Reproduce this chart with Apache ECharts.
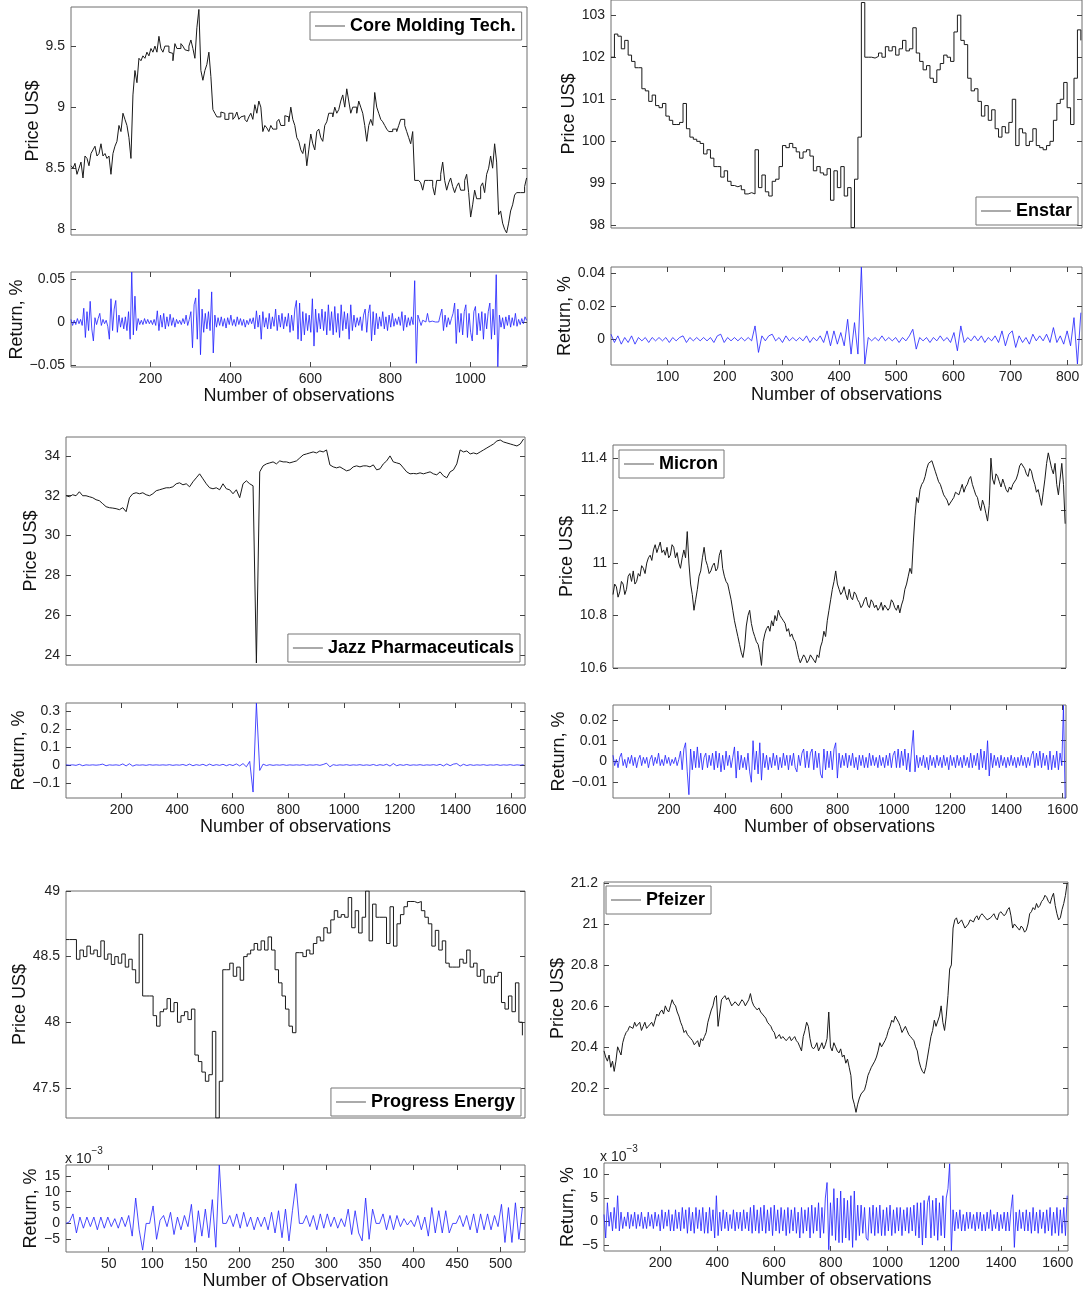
<!DOCTYPE html>
<html><head><meta charset="utf-8">
<script src="https://cdn.jsdelivr.net/npm/echarts@6/dist/echarts.min.js"></script>
<style>html,body{margin:0;padding:0;background:#fff}#c{width:1086px;height:1294px}</style>
</head><body><div id="c"></div>
<script>
// ---------------- DATA ----------------
// Core Molding Tech. : price sampled every 5 obs from obs 1, returns every 4 obs from obs 1
const coreName = 'Core Molding Tech.';
const corePriceStep = 5, coreReturnStep = 4;
const corePrice = [8.52,8.5,8.54,8.45,8.50,8.55,8.42,8.6,8.58,8.52,8.62,8.65,8.68,8.6,8.62,8.7,8.60,8.62,8.58,8.6,
 8.45,8.62,8.68,8.72,8.85,8.8,8.95,8.9,8.85,8.75,8.58,9.1,9.30,9.2,9.40,9.38,9.42,9.4,9.45,9.42,
 9.48,9.45,9.50,9.45,9.58,9.48,9.45,9.5,9.50,9.45,9.44,9.38,9.52,9.48,9.48,9.52,9.50,9.47,9.46,9.5,
 9.55,9.48,9.40,9.65,9.80,9.3,9.22,9.3,9.35,9.45,9.25,8.98,8.95,8.92,8.92,8.96,8.95,8.9,8.90,8.95,
 8.95,8.9,8.92,8.96,8.90,8.92,8.93,8.9,8.88,8.92,8.95,8.9,9.02,8.95,9.05,9.0,8.80,8.85,8.83,8.8,
 8.85,8.82,8.82,8.88,8.90,8.85,8.85,8.93,8.92,8.88,9.00,8.9,8.85,8.75,8.72,8.65,8.62,8.7,8.52,8.65,
 8.78,8.7,8.65,8.8,8.82,8.75,8.72,8.85,8.88,8.95,8.95,8.92,9.00,8.95,8.98,9.05,9.10,9.0,9.15,9.05,
 8.95,9.0,9.00,8.95,9.05,9.0,8.95,8.85,8.72,8.85,8.90,8.85,9.12,9.0,8.95,8.9,8.88,8.85,8.82,8.8,
 8.80,8.82,8.82,8.8,8.85,8.9,8.90,8.85,8.80,8.75,8.70,8.8,8.40,8.4,8.40,8.38,8.32,8.4,8.40,8.4,
 8.40,8.35,8.28,8.4,8.40,8.45,8.55,8.4,8.32,8.38,8.42,8.35,8.30,8.35,8.38,8.32,8.32,8.4,8.45,8.3,
 8.10,8.2,8.32,8.25,8.25,8.35,8.38,8.3,8.45,8.5,8.60,8.5,8.70,8.55,8.12,8.15,8.05,8.0,7.97,8.05,
 8.15,8.2,8.28,8.3,8.30,8.3,8.30,8.35,8.42];
const coreReturn = [0.003,-0.004,0.002,-0.003,0.004,-0.002,0.003,-0.004,0.016,-0.018,0.012,-0.01,0.024,-0.008,-0.022,0.005,-0.003,0.004,0.01,-0.004,0.003,-0.002,0.002,-0.005,-0.02,
 0.027,-0.01,0.015,0.025,-0.012,0.008,-0.006,0.005,-0.008,0.006,-0.01,0.012,-0.02,0.058,-0.015,0.03,-0.01,0.004,-0.003,0.002,-0.003,0.004,-0.002,0.003,-0.002,
 0.002,-0.003,0.003,-0.004,0.013,-0.01,0.008,-0.006,0.01,-0.008,0.006,-0.005,0.009,-0.004,0.005,-0.006,0.003,-0.002,0.002,-0.003,0.004,-0.002,0.008,-0.004,0.003,
 0.012,-0.03,0.02,0.028,-0.02,0.038,-0.038,0.015,-0.012,0.01,-0.008,0.012,-0.01,0.035,-0.036,0.008,-0.006,0.005,-0.004,0.006,-0.005,0.004,-0.007,0.005,-0.003,
 0.008,-0.004,0.003,-0.005,0.006,-0.003,0.004,-0.004,0.003,-0.006,0.002,-0.003,0.004,-0.002,0.005,-0.008,0.013,-0.006,0.008,-0.02,0.012,-0.006,0.005,-0.008,0.01,
 -0.008,0.006,-0.005,0.015,-0.01,0.008,-0.006,0.01,-0.008,0.006,-0.005,0.01,-0.012,0.008,-0.01,0.015,0.025,-0.02,0.022,-0.022,0.012,-0.015,0.01,-0.01,0.008,
 -0.012,0.027,-0.028,0.015,-0.012,0.01,-0.008,0.015,-0.01,0.012,-0.015,0.02,-0.01,0.012,-0.015,0.018,-0.012,0.01,-0.018,0.02,-0.01,0.012,-0.008,0.01,-0.02,
 0.02,-0.01,0.008,-0.006,0.005,-0.004,0.006,-0.01,0.008,0.015,-0.012,0.01,0.02,-0.022,0.012,-0.015,0.01,-0.008,0.006,-0.005,0.012,-0.008,0.006,-0.01,0.008,
 -0.006,0.01,-0.005,0.004,-0.003,0.006,-0.004,0.012,-0.01,0.008,-0.006,0.005,-0.004,0.006,-0.003,0.048,-0.048,0.008,0.01,-0.004,0.002,0,0,0.01,0,
 0,0.001,0,0,0.001,0,0.008,0.015,-0.01,0.008,-0.006,0.005,-0.003,0.004,0.01,0.022,-0.025,0.015,-0.012,0.01,-0.015,0.012,0.02,-0.018,0.01,
 -0.012,-0.022,0.012,0.018,-0.015,0.01,-0.01,0.012,-0.02,0.01,-0.008,0.012,0.022,-0.02,0.015,-0.015,0.055,-0.052,0.008,-0.006,0.005,-0.008,0.006,-0.004,0.008,
 -0.006,0.005,-0.004,0.01,-0.005,0.003,-0.003,0.004,-0.002,0.006,0.002];
const corePriceTicks = [8, 8.5, 9, 9.5];
const coreReturnTicks = [-0.05, 0, 0.05];
const coreObsTicks = [200, 400, 600, 800, 1000];

// Enstar : price and returns every 6 obs from obs 1
const ensName = 'Enstar';
const ensPriceStep = 6, ensReturnStep = 6;
const ensPrice = [102.0,102.55,102.5,102.2,102.4,102.05,101.9,101.75,101.75,101.25,
 101.2,100.95,101.1,100.85,100.8,100.9,100.6,100.5,100.4,100.4,
 100.45,100.9,100.3,100.1,100.05,100.0,99.95,99.7,99.8,99.6,
 99.4,99.4,99.15,99.3,99.05,98.95,98.92,98.95,98.85,98.75,
 98.78,98.75,99.8,98.9,99.2,98.8,98.7,99.05,99.1,99.4,
 99.9,99.85,99.95,99.85,99.75,99.6,99.75,99.8,99.65,99.3,
 99.4,99.25,99.2,99.35,98.6,99.3,98.9,99.4,98.7,98.9,
 97.95,99.1,100.1,103.3,102.0,102.0,101.98,102.02,102.1,102.0,
 102.25,102.15,102.25,102.05,102.2,102.4,102.15,102.2,102.7,102.1,
 101.9,101.7,101.8,101.5,101.4,101.7,101.85,102.05,102.0,101.9,
 102.6,103.0,102.4,102.3,101.5,101.2,101.25,100.95,100.6,100.85,
 100.5,100.75,100.3,100.1,100.35,100.2,100.45,101.0,99.9,100.3,
 100.2,99.9,100.0,100.3,99.9,99.85,99.8,99.9,100.0,100.5,
 100.9,101.0,101.4,100.8,100.4,101.5,102.65,102.4];
const ensReturn = [0.003,-0.002,0.002,-0.003,0.001,-0.002,0.002,-0.003,0.001,-0.001,
 0.001,-0.002,0.001,-0.001,0.001,-0.001,0.001,-0.002,0.001,-0.001,
 0.001,0.002,-0.002,0.001,-0.001,0.001,-0.001,0.001,-0.001,0.001,
 -0.002,0.002,0.003,-0.002,0.001,-0.001,0.001,-0.001,0.001,-0.001,
 0.001,-0.001,0.008,-0.008,0.002,-0.001,0.002,0.003,-0.001,0.001,
 -0.002,0.002,-0.001,0.001,-0.001,0.001,-0.001,0.002,-0.002,0.001,
 -0.001,0.002,-0.002,0.005,-0.004,0.005,-0.003,0.004,-0.004,0.012,
 -0.009,0.01,-0.009,0.0435,-0.015,0.001,-0.001,0.001,-0.001,0.002,
 -0.001,0.001,-0.001,0.001,-0.002,0.001,-0.001,0.002,0.006,-0.006,
 0.001,-0.001,0.001,-0.002,0.001,-0.001,0.002,-0.001,0.001,-0.002,
 0.004,-0.007,0.008,-0.002,0.001,-0.001,0.002,-0.001,0.002,-0.002,
 0.001,-0.001,0.002,-0.002,0.005,-0.004,0.003,0.005,-0.005,0.002,
 -0.002,0.001,-0.003,0.003,-0.001,0.002,-0.001,0.003,-0.002,0.007,
 -0.002,0.002,-0.003,0.005,-0.004,0.013,-0.015,0.016];
const ensPriceTicks = [98, 99, 100, 101, 102, 103];
const ensReturnTicks = [0, 0.02, 0.04];
const ensObsTicks = [100, 200, 300, 400, 500, 600, 700, 800];

// Jazz Pharmaceuticals : every 12 obs from obs 1
const jazzName = 'Jazz Pharmaceuticals';
const jazzPriceStep = 12, jazzReturnStep = 12;
const jazzPrice = [32.0,31.95,32.05,32.0,32.2,32.0,32.0,31.95,31.9,31.8,
 31.75,31.6,31.45,31.4,31.38,31.35,31.3,31.4,31.2,31.9,
 32.1,32.15,32.1,32.15,32.05,32.0,32.1,32.25,32.3,32.35,
 32.4,32.4,32.45,32.6,32.65,32.55,32.6,32.45,32.7,32.9,
 33.1,32.85,32.6,32.4,32.35,32.4,32.3,32.6,32.35,32.3,
 32.1,32.3,31.9,32.6,32.75,32.6,32.5,23.6,33.2,33.5,
 33.6,33.65,33.7,33.6,33.75,33.7,33.7,33.65,33.7,33.75,
 33.9,34.05,34.1,34.15,34.2,34.15,34.25,34.2,34.3,33.55,
 33.45,33.4,33.45,33.35,33.25,33.3,33.45,33.5,33.45,33.5,
 33.5,33.45,33.55,33.3,33.35,33.6,33.75,34.0,33.7,33.65,
 33.6,33.4,33.2,33.1,33.12,33.1,33.15,33.1,33.15,33.2,
 33.1,33.05,33.2,33.0,32.9,33.2,33.3,33.6,34.3,34.2,
 34.25,34.1,34.15,34.1,34.2,34.3,34.4,34.5,34.6,34.75,
 34.8,34.7,34.65,34.6,34.55,34.5,34.6,34.85];
const jazzReturn = [0.001,-0.001,0.001,-0.002,0.004,-0.004,0.001,-0.001,0.001,-0.001,
 0.001,0.005,-0.004,0.001,-0.001,0.001,-0.002,0.006,-0.005,0.007,
 -0.006,0.001,-0.001,0.001,-0.002,0.002,-0.001,0.001,-0.001,0.001,
 -0.001,0.002,-0.002,0.001,-0.001,0.003,-0.003,0.005,-0.004,0.002,
 -0.002,0.004,-0.004,0.005,-0.003,0.002,-0.002,0.004,-0.004,0.003,
 -0.003,0.006,-0.005,0.008,-0.01,0.02,-0.15,0.343,-0.03,0.005,
 -0.003,0.002,-0.002,0.001,-0.001,0.002,-0.002,0.001,-0.001,0.001,
 -0.001,0.002,-0.002,0.001,-0.001,0.002,-0.002,0.003,0.01,-0.01,
 0.002,-0.002,0.001,-0.001,0.002,-0.002,0.001,-0.001,0.002,-0.002,
 0.001,-0.002,0.003,-0.003,0.002,-0.002,0.004,-0.006,0.008,-0.004,
 0.002,-0.002,0.003,-0.002,0.001,-0.001,0.002,-0.002,0.001,-0.001,
 0.002,-0.002,0.004,-0.005,0.006,-0.004,0.005,0.008,-0.006,0.004,
 -0.003,0.002,-0.002,0.001,-0.001,0.002,-0.002,0.001,-0.001,0.002,
 -0.002,0.001,-0.001,0.002,-0.002,0.001,-0.001,0.002];
const jazzPriceTicks = [24, 26, 28, 30, 32, 34];
const jazzReturnTicks = [-0.1, 0, 0.1, 0.2, 0.3];
const jazzObsTicks = [200, 400, 600, 800, 1000, 1200, 1400, 1600];

// Micron : price and returns every 6 obs from obs 1
const micName = 'Micron';
const micPriceStep = 6, micReturnStep = 6;
const micPrice = [10.88,10.92,10.91,10.87,10.89,10.93,10.92,10.88,10.9,10.95,
 10.96,10.93,10.97,10.92,10.93,10.96,10.95,10.99,10.98,10.96,
 11.0,11.02,11.03,11.01,11.05,11.07,11.04,11.06,11.08,11.04,
 11.05,11.03,11.06,11.02,11.03,11.07,11.06,11.02,11.04,11.0,
 10.98,11.02,11.05,11.02,11.12,11.0,10.92,10.88,10.82,10.86,
 10.9,10.95,10.97,11.02,11.06,11.01,10.99,10.96,10.97,10.99,
 11.0,10.97,10.98,11.03,11.05,10.98,10.95,10.93,10.92,10.89,
 10.86,10.82,10.78,10.75,10.72,10.69,10.66,10.64,10.68,10.76,
 10.8,10.82,10.77,10.74,10.72,10.7,10.69,10.66,10.61,10.7,
 10.73,10.75,10.76,10.74,10.78,10.76,10.8,10.78,10.82,10.8,
 10.79,10.78,10.77,10.74,10.75,10.72,10.73,10.71,10.7,10.67,
 10.64,10.62,10.62,10.65,10.64,10.62,10.63,10.65,10.65,10.63,
 10.62,10.65,10.64,10.68,10.7,10.74,10.72,10.78,10.82,10.86,
 10.9,10.93,10.97,10.92,10.9,10.88,10.89,10.91,10.88,10.86,
 10.9,10.87,10.86,10.89,10.88,10.86,10.85,10.83,10.84,10.86,
 10.87,10.84,10.83,10.86,10.85,10.83,10.84,10.82,10.83,10.85,
 10.82,10.84,10.84,10.82,10.83,10.86,10.85,10.83,10.82,10.84,
 10.81,10.84,10.86,10.9,10.92,10.95,10.98,10.96,11.08,11.18,
 11.25,11.23,11.28,11.3,11.31,11.33,11.36,11.38,11.38,11.39,
 11.37,11.35,11.33,11.31,11.3,11.28,11.26,11.25,11.24,11.22,
 11.22,11.24,11.25,11.27,11.27,11.26,11.28,11.3,11.27,11.29,
 11.3,11.32,11.33,11.3,11.28,11.26,11.25,11.22,11.2,11.24,
 11.22,11.19,11.16,11.22,11.4,11.32,11.3,11.34,11.33,11.31,
 11.29,11.32,11.3,11.28,11.27,11.29,11.28,11.3,11.3,11.32,
 11.34,11.37,11.38,11.37,11.36,11.34,11.33,11.36,11.35,11.32,
 11.3,11.27,11.28,11.25,11.22,11.27,11.32,11.38,11.42,11.39,
 11.36,11.34,11.38,11.3,11.26,11.32,11.38,11.3,11.15];
const micReturn = [0.003,-0.002,0.001,-0.003,0.002,0.004,-0.002,0.001,-0.003,0.002,
 -0.001,0.003,-0.002,0.002,-0.003,0.001,0.003,-0.002,0.002,-0.001,
 0.002,-0.003,0.001,0.003,-0.002,0.002,-0.001,0.004,-0.002,0.001,
 -0.002,0.003,-0.001,0.002,-0.002,0.001,-0.001,0.002,-0.002,0.001,
 0.005,-0.004,0.006,0.009,-0.005,-0.016,0.006,-0.004,0.005,-0.003,
 0.007,-0.003,0.004,-0.004,0.002,0.004,-0.003,0.003,-0.002,0.004,
 -0.004,0.005,-0.003,0.004,-0.005,0.003,-0.004,0.005,-0.002,0.003,
 -0.003,0.002,0.007,-0.008,0.005,-0.004,0.003,-0.003,0.002,-0.004,
 0.004,-0.005,-0.01,0.01,-0.004,0.005,-0.006,0.009,-0.009,0.004,
 -0.003,0.003,-0.004,0.002,-0.003,0.004,-0.002,0.003,-0.004,0.002,
 -0.003,0.004,-0.002,0.003,-0.004,0.003,-0.002,0.004,-0.003,-0.005,
 0.003,-0.002,0.004,0.006,-0.003,0.005,-0.003,0.004,0.006,-0.004,
 0.005,-0.003,0.004,-0.006,-0.008,0.006,-0.004,0.005,-0.003,0.005,
 -0.004,0.006,0.009,-0.008,0.004,-0.003,0.003,-0.002,0.004,-0.003,
 0.003,-0.002,0.004,-0.003,0.002,-0.004,0.003,-0.002,0.003,-0.003,
 0.002,-0.003,0.004,-0.002,0.003,-0.002,0.002,-0.003,0.003,-0.002,
 0.002,-0.003,0.003,-0.002,0.004,-0.003,0.003,0.005,-0.003,0.006,
 -0.003,0.005,-0.002,0.006,-0.004,0.004,-0.005,0.006,0.015,-0.005,
 0.003,-0.003,0.002,-0.002,0.003,-0.003,0.002,-0.004,0.003,-0.002,
 0.002,-0.003,0.003,-0.002,0.002,-0.003,0.003,-0.002,0.002,-0.004,
 0.003,-0.002,0.002,-0.003,0.003,-0.002,0.002,-0.003,0.003,-0.002,
 0.002,-0.003,0.004,-0.003,0.003,-0.002,0.004,-0.004,0.006,-0.003,
 0.005,-0.004,0.01,-0.007,0.004,-0.003,0.003,-0.002,0.002,-0.003,
 0.003,-0.002,0.002,-0.003,0.002,-0.002,0.003,-0.002,0.002,-0.003,
 0.002,-0.002,0.003,-0.002,0.002,-0.003,0.002,-0.002,0.003,0.005,
 -0.003,0.004,-0.002,0.005,-0.003,0.004,-0.002,0.003,-0.004,0.005,
 -0.004,0.003,-0.003,0.005,-0.004,0.004,-0.002,0.027,-0.018];
const micPriceTicks = [10.6, 10.8, 11, 11.2, 11.4];
const micReturnTicks = [-0.01, 0, 0.01, 0.02];
const micObsTicks = [200, 400, 600, 800, 1000, 1200, 1400, 1600];

// Progress Energy : every 4 obs from obs 1 ; returns in units of 1e-3
const peName = 'Progress Energy';
const pePriceStep = 4, peReturnStep = 4;
const pePrice = [48.63,48.63,48.63,48.48,48.55,48.5,48.58,48.52,48.55,48.5,
 48.62,48.48,48.52,48.44,48.5,48.45,48.52,48.42,48.48,48.4,
 48.3,48.67,48.2,48.2,48.2,48.05,47.97,48.08,48.1,48.18,
 48.08,48.15,48.0,48.05,48.08,48.02,48.1,47.75,47.7,47.62,
 47.55,47.6,47.93,47.27,47.55,48.4,48.4,48.45,48.35,48.42,
 48.32,48.5,48.52,48.55,48.6,48.55,48.62,48.55,48.65,48.55,
 48.4,48.3,48.2,48.1,47.97,47.92,48.53,48.53,48.5,48.55,
 48.52,48.6,48.65,48.62,48.72,48.68,48.78,48.85,48.8,48.82,
 48.8,48.95,48.72,48.85,48.68,48.8,49.0,48.62,48.9,48.8,
 48.8,48.8,48.6,48.88,48.58,48.75,48.82,48.88,48.92,48.92,
 48.91,48.92,48.85,48.8,48.75,48.58,48.7,48.55,48.62,48.45,
 48.42,48.42,48.42,48.48,48.45,48.55,48.42,48.45,48.35,48.4,
 48.3,48.35,48.3,48.35,48.38,48.15,48.1,48.2,48.08,48.3,
 48.0,47.9];
const peReturn = [0,0.5,3,-3,2,-1.5,2,-1,2,-2,
 2,-1.5,2,-1,1.5,-1.5,2,-1,2.5,-4,
 8,-2,-8.4,0,0,5.5,-5,1,2.5,-1,
 3.5,-3.5,2,-2,2.5,-1,6,-6,4,-4,
 4.5,-4.5,7.5,-7.5,18.4,0,0,2.5,-1,3,
 -1.5,3.5,-1,2,-2,2,-1,2,-2,3.5,
 -3,4,-4.5,4.5,-5.5,4,12.5,0,0,2.5,
 -1,2.5,-2,3,-1.5,3,-1,2,-1.5,1.5,
 -1,4.5,-3.5,4,-3,-5.5,8,-5,4.5,0,
 0,3,-2,2.5,-2,2.5,-1,1.5,-0.5,1,
 -1,2.5,-2,2,-4,5,-3,4,-3,4,
 -3,0,0,2.5,-1,2.5,-2,3,-3,3,
 -2,3,-2,2.5,-1,6,-6,5,-6,6.5,
 -5,5];
const pePriceTicks = [47.5, 48, 48.5, 49];
const peReturnTicks = [-5, 0, 5, 10, 15];
const peObsTicks = [50, 100, 150, 200, 250, 300, 350, 400, 450, 500];

// Pfeizer : price and returns every 6 obs from obs 1 ; returns in units of 1e-3
const pfeName = 'Pfeizer';
const pfePriceStep = 6, pfeReturnStep = 6;
const pfePrice = [20.38,20.35,20.33,20.36,20.3,20.33,20.28,20.33,20.4,20.38,
 20.36,20.42,20.45,20.47,20.48,20.5,20.5,20.49,20.52,20.5,
 20.5,20.52,20.48,20.5,20.52,20.49,20.5,20.51,20.52,20.5,
 20.53,20.56,20.55,20.57,20.58,20.56,20.6,20.58,20.57,20.6,
 20.63,20.61,20.6,20.57,20.55,20.52,20.5,20.47,20.48,20.46,
 20.45,20.44,20.43,20.41,20.42,20.43,20.4,20.44,20.43,20.45,
 20.47,20.52,20.55,20.58,20.6,20.64,20.65,20.5,20.5,20.63,
 20.64,20.65,20.63,20.64,20.62,20.6,20.6,20.62,20.62,20.6,
 20.6,20.63,20.62,20.6,20.6,20.63,20.66,20.62,20.6,20.59,
 20.58,20.59,20.57,20.56,20.55,20.54,20.52,20.51,20.5,20.48,
 20.47,20.44,20.45,20.46,20.44,20.45,20.45,20.43,20.44,20.45,
 20.43,20.44,20.45,20.43,20.42,20.4,20.38,20.45,20.48,20.52,
 20.5,20.44,20.4,20.39,20.4,20.42,20.38,20.4,20.42,20.39,
 20.41,20.44,20.57,20.4,20.38,20.42,20.4,20.38,20.37,20.39,
 20.35,20.36,20.32,20.34,20.3,20.26,20.15,20.12,20.08,20.12,
 20.15,20.17,20.17,20.19,20.22,20.26,20.28,20.3,20.3,20.33,
 20.35,20.38,20.42,20.4,20.4,20.43,20.45,20.48,20.5,20.53,
 20.52,20.55,20.55,20.52,20.5,20.47,20.47,20.5,20.48,20.46,
 20.45,20.44,20.43,20.4,20.38,20.33,20.3,20.28,20.27,20.3,
 20.35,20.4,20.45,20.48,20.53,20.5,20.5,20.55,20.6,20.52,
 20.48,20.55,20.65,20.78,20.8,20.98,21.02,21.03,21.0,21.01,
 21.02,21.0,20.98,20.99,21.0,21.02,21.02,21.01,21.03,21.04,
 21.02,21.04,21.05,21.04,21.03,21.02,21.02,21.03,21.04,21.05,
 21.03,21.02,21.05,21.06,21.06,21.04,21.05,21.07,21.08,21.04,
 20.98,21.0,20.99,20.98,20.97,20.99,20.98,20.96,20.97,21.0,
 21.05,21.06,21.08,21.07,21.1,21.08,21.09,21.11,21.12,21.14,
 21.13,21.11,21.1,21.13,21.15,21.09,21.05,21.02,21.03,21.07,
 21.1,21.14,21.2];
const pfeReturn = [1.5,-3.5,4,-1,2,-2,3,-1.5,5.5,-2,
 2,-1.5,1,-1,2,-1.5,1.5,-1,2,-1.5,
 1.5,-1,2,-1.5,1,-1.5,2,-1,1.5,-1.5,
 2,-1,1.5,-2,2.5,-1.5,2,-1,2.5,-2,
 1.5,-2,2.5,-1.5,2,-2,3,-1.5,2.5,-2.5,
 3,-2,2,-2.5,3,-1.5,2.5,-2,3,-2.5,
 2,-2.5,3,-2,2.5,-3.5,5.5,-3,2,-2,
 2.5,-1.5,2,-2,1.5,-1.5,2.5,-2,2,-1.5,
 2,-2,2.5,-1.5,2,-2,3,-2.5,3.5,-2,
 2.5,-2.5,3,-2,3.5,-2.5,2.5,-2,3,-3,
 3.5,-2,2.5,-2.5,3,-2,2.5,-3,3,-2.5,
 2.5,-2,3,-2.5,2,-3.5,3,-2.5,2.5,-2,
 3,-3.5,3.5,-2.5,3,-2,4,-3.5,3,-2.5,
 5,8.3,-6,4,-3,7,-4,5,-4.5,6.5,
 -4.5,5,-3.5,4.5,-4,5.5,-5.5,6.5,-4,3.5,
 -3,3.5,-2.5,3,-3.5,-4,3,-2.5,3.5,-3,
 3,-2.5,3.5,-3,2.5,-3,3,-2,3.5,-3,
 2.5,-2.5,3,-2,3,-3,2.5,-2,3,-2.5,
 3,-2,3.5,-3,4,-3.5,4,-5,4.5,-3.5,
 4,5.5,-3.5,4.5,-3,5,-4,4,-3,5.5,
 -3.5,5,7,12.3,-6.2,2.5,-2,2,-1.5,2.5,
 -2,1.5,-2,2,-1.5,2,-1.5,1.5,-2,2,
 -1.5,2,-2,1.5,-2,2,-1.5,2.5,-2,1.5,
 -1.5,2,-2,1.5,-1.5,2,-2,2,-2,2.5,
 5.7,-5.5,2,-2,2.5,-1.5,2,-2,2.5,-2,
 2,-2.5,3,-2,2,-2.5,2.5,-1.5,2,-2.5,
 2.5,-2,3,-3,2,-2.5,3,-3,2.5,-2.5,
 3,-3,5.5];
const pfePriceTicks = [20.2, 20.4, 20.6, 20.8, 21, 21.2];
const pfeReturnTicks = [-5, 0, 5, 10];
const pfeObsTicks = [200, 400, 600, 800, 1000, 1200, 1400, 1600];

// ---------------- CHART CONFIG ----------------
const panels = [
 {name: coreName, price: corePrice, pStep: corePriceStep, ret: coreReturn, rStep: coreReturnStep, stair: true,
  xMin: 1, xMax: 1142, pMin: 7.953, pMax: 9.82, rMin: -0.0523, rMax: 0.0581,
  pTicks: corePriceTicks, rTicks: coreReturnTicks, xTicks: coreObsTicks, xName: 'Number of observations'},
 {name: ensName, price: ensPrice, pStep: ensPriceStep, ret: ensReturn, rStep: ensReturnStep, stair: true,
  xMin: 1, xMax: 825, pMin: 97.94, pMax: 103.36, rMin: -0.0156, rMax: 0.0436,
  pTicks: ensPriceTicks, rTicks: ensReturnTicks, xTicks: ensObsTicks, xName: 'Number of observations'},
 {name: jazzName, price: jazzPrice, pStep: jazzPriceStep, ret: jazzReturn, rStep: jazzReturnStep,
  xMin: 1, xMax: 1650, pMin: 23.5, pMax: 34.95, rMin: -0.183, rMax: 0.344,
  pTicks: jazzPriceTicks, rTicks: jazzReturnTicks, xTicks: jazzObsTicks, xName: 'Number of observations'},
 {name: micName, price: micPrice, pStep: micPriceStep, ret: micReturn, rStep: micReturnStep,
  xMin: 1, xMax: 1612, pMin: 10.6, pMax: 11.45, rMin: -0.0176, rMax: 0.0272,
  pTicks: micPriceTicks, rTicks: micReturnTicks, xTicks: micObsTicks, xName: 'Number of observations'},
 {name: peName, price: pePrice, pStep: pePriceStep, ret: peReturn, rStep: peReturnStep, stair: true,
  xMin: 1, xMax: 528, pMin: 47.27, pMax: 49.0, rMin: -9.0, rMax: 18.4,
  pTicks: pePriceTicks, rTicks: peReturnTicks, xTicks: peObsTicks, xName: 'Number of Observation', exp: true},
 {name: pfeName, price: pfePrice, pStep: pfePriceStep, ret: pfeReturn, rStep: pfeReturnStep,
  xMin: 1, xMax: 1636, pMin: 20.067, pMax: 21.205, rMin: -6.27, rMax: 12.46,
  pTicks: pfePriceTicks, rTicks: pfeReturnTicks, xTicks: pfeObsTicks, xName: 'Number of observations', exp: true}
];

const layouts = [
 {price:{left:71,top:7,width:456,height:228}, ret:{left:71,top:272,width:456,height:95},
  legend:{left:310,top:12}, pGap:23, rGap:37, xGap:16},
 {price:{left:611,top:0,width:471,height:228}, ret:{left:611,top:267,width:471,height:98},
  legend:{right:8,top:197}, pGap:33, rGap:37, xGap:21},
 {price:{left:66,top:437,width:459,height:228}, ret:{left:66,top:703,width:459,height:95},
  legend:{right:566,top:634}, pGap:25, rGap:38, xGap:20},
 {price:{left:613,top:445,width:453,height:223}, ret:{left:613,top:705,width:453,height:93},
  legend:{left:619,top:450}, pGap:30, rGap:37, xGap:20},
 {price:{left:66,top:891,width:459,height:227}, ret:{left:66,top:1165,width:459,height:87},
  legend:{right:565,top:1088}, pGap:31, rGap:19, xGap:19, expPos:{left:65,top:1146}},
 {price:{left:604,top:882,width:464,height:233}, ret:{left:604,top:1163,width:464,height:88},
  legend:{left:606,top:886}, pGap:37, rGap:27, xGap:20, expPos:{left:600,top:1144}}
];

const FONT = '"Liberation Sans", Arial, Helvetica, sans-serif';
const BOX = '#6e6e6e', TICK = '#444', LBL = '#222';
const fmt = v => String(v).replace('-', '\u2212');
const pts = (step, vals) => vals.map((v, i) => [1 + i * step, v]);

const option = {animation: false, grid: [], xAxis: [], yAxis: [], series: [], legend: [], graphic: []};

panels.forEach((p, k) => {
  const L = layouts[k];
  const gP = option.grid.length;
  option.grid.push(Object.assign({show: true, borderColor: BOX, borderWidth: 1, backgroundColor: '#fff'}, L.price));
  const gR = gP + 1;
  option.grid.push(Object.assign({show: true, borderColor: BOX, borderWidth: 1, backgroundColor: '#fff'}, L.ret));

  const tick = vals => ({show: true, inside: true, length: 5, customValues: vals, lineStyle: {color: TICK}});
  const xP = option.xAxis.length;
  option.xAxis.push({gridIndex: gP, type: 'value', min: p.xMin, max: p.xMax,
    axisLine: {show: false, onZero: false}, axisTick: {show: false}, axisLabel: {show: false}, splitLine: {show: false}});
  const xR = xP + 1;
  option.xAxis.push({gridIndex: gR, type: 'value', min: p.xMin, max: p.xMax, position: 'bottom',
    axisLine: {show: false, onZero: false}, splitLine: {show: false},
    axisTick: tick(p.xTicks),
    axisLabel: {show: true, customValues: p.xTicks, margin: 5, fontSize: 14, color: LBL, fontFamily: FONT, formatter: fmt},
    name: p.xName, nameLocation: 'middle', nameGap: L.xGap,
    nameTextStyle: {fontSize: 18, color: '#111', fontFamily: FONT, verticalAlign: 'top'}});
  option.xAxis.push({gridIndex: gR, type: 'value', min: p.xMin, max: p.xMax, position: 'top',
    axisLine: {show: false, onZero: false}, splitLine: {show: false}, axisLabel: {show: false},
    axisTick: tick(p.xTicks)});

  const yP = option.yAxis.length;
  option.yAxis.push({gridIndex: gP, type: 'value', min: p.pMin, max: p.pMax, position: 'left',
    axisLine: {show: false, onZero: false}, splitLine: {show: false},
    axisTick: tick(p.pTicks),
    axisLabel: {show: true, customValues: p.pTicks, margin: 6, fontSize: 14, color: LBL, fontFamily: FONT, formatter: fmt},
    name: 'Price US$', nameLocation: 'middle', nameGap: L.pGap,
    nameTextStyle: {fontSize: 18, color: '#111', fontFamily: FONT}});
  option.yAxis.push({gridIndex: gP, type: 'value', min: p.pMin, max: p.pMax, position: 'right',
    axisLine: {show: false, onZero: false}, splitLine: {show: false}, axisLabel: {show: false},
    axisTick: tick(p.pTicks)});
  const yR = yP + 2;
  option.yAxis.push({gridIndex: gR, type: 'value', min: p.rMin, max: p.rMax, position: 'left',
    axisLine: {show: false, onZero: false}, splitLine: {show: false},
    axisTick: tick(p.rTicks),
    axisLabel: {show: true, customValues: p.rTicks, margin: 6, fontSize: 14, color: LBL, fontFamily: FONT, formatter: fmt},
    name: 'Return, %', nameLocation: 'middle', nameGap: L.rGap,
    nameTextStyle: {fontSize: 18, color: '#111', fontFamily: FONT}});
  option.yAxis.push({gridIndex: gR, type: 'value', min: p.rMin, max: p.rMax, position: 'right',
    axisLine: {show: false, onZero: false}, splitLine: {show: false}, axisLabel: {show: false},
    axisTick: tick(p.rTicks)});

  option.series.push({name: p.name, type: 'line', xAxisIndex: xP, yAxisIndex: yP,
    data: pts(p.pStep, p.price), symbol: 'none', showSymbol: false, clip: true,
    step: p.stair ? 'end' : false,
    lineStyle: {color: '#1a1a1a', width: 1}, itemStyle: {color: '#1a1a1a'}});
  option.series.push({name: 'ret' + k, type: 'line', xAxisIndex: xR, yAxisIndex: yR,
    data: pts(p.rStep, p.ret), symbol: 'none', showSymbol: false, clip: true,
    lineStyle: {color: '#2020ff', width: 0.9, opacity: 0.9}, itemStyle: {color: '#2020ff'}});

  option.legend.push(Object.assign({data: [{name: p.name, icon: 'rect'}], selectedMode: false, orient: 'horizontal',
    backgroundColor: '#fff', borderColor: '#777', borderWidth: 1, borderRadius: 0,
    padding: [5, 6, 5, 5], itemWidth: 30, itemHeight: 1,
    itemStyle: {color: '#555', borderWidth: 0},
    textStyle: {fontSize: 18, fontWeight: 'bold', color: '#000', fontFamily: FONT}}, L.legend));

  if (p.exp) {
    option.graphic.push({type: 'text', left: L.expPos.left, top: L.expPos.top,
      style: {text: '{a|x 10}{b|\u22123}', fill: '#222',
        rich: {a: {fontSize: 14, fontFamily: FONT, fill: '#222', verticalAlign: 'bottom', lineHeight: 20},
               b: {fontSize: 10, fontFamily: FONT, fill: '#222', verticalAlign: 'top', lineHeight: 20}}}});
  }
});

const chart = echarts.init(document.getElementById('c'), null, {renderer: 'canvas'});
chart.setOption(option);
</script>
</body></html>
